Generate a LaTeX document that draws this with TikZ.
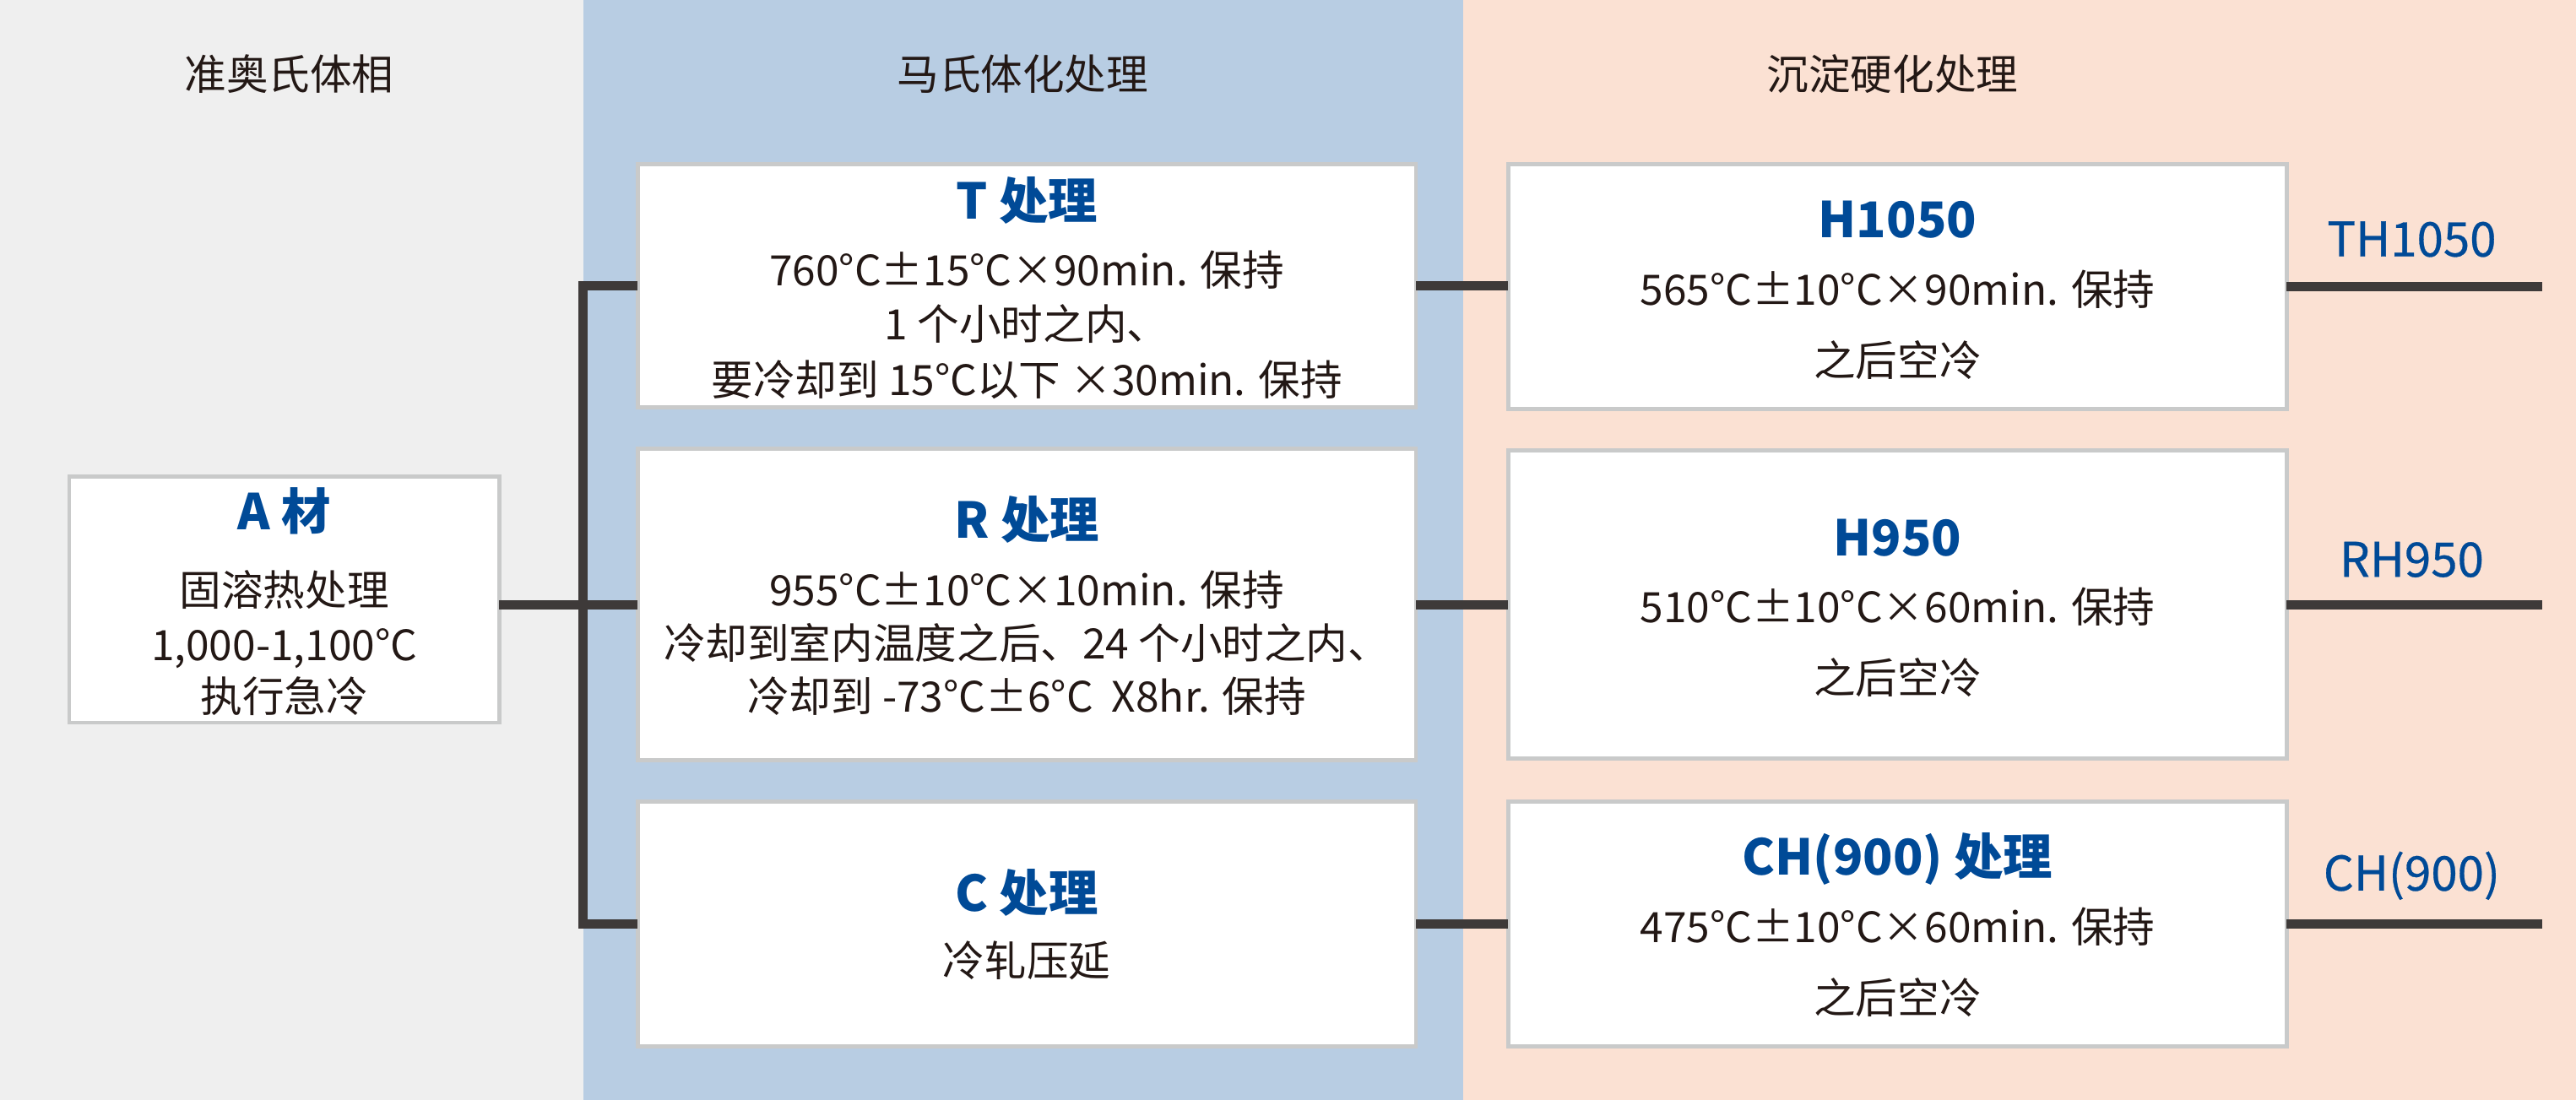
\documentclass[tikz,border=0pt]{standalone}
\usepackage{fontspec}
\setmainfont{Noto Sans CJK SC}
\newfontfamily\labfont{Noto Sans CJK SC}[FakeBold=0.5]
\definecolor{graybg}{HTML}{EFEFEF}
\definecolor{bluebg}{HTML}{B8CDE3}
\definecolor{peachbg}{HTML}{FBE1D3}
\definecolor{titleblue}{HTML}{004A97}
\definecolor{txt}{HTML}{231815}
\definecolor{conncol}{HTML}{3E3A39}
\definecolor{boxline}{HTML}{C9CACA}
\tikzset{
  panelbox/.style={draw=boxline, fill=white, line width=1.2pt, inner sep=0pt, outer sep=0pt},
  bodytxt/.style={inner sep=0pt, text=txt, font=\fontsize{12.75pt}{14pt}\selectfont, text height=0.88em, text depth=0.12em, yshift=-1.5pt},
  headtxt/.style={inner sep=0pt, text=txt, font=\fontsize{12.75pt}{14pt}\selectfont, text height=0.88em, text depth=0.12em, yshift=-1pt},
  titletxt/.style={inner sep=0pt, text=titleblue, font=\fontsize{15pt}{17pt}\selectfont\bfseries, text height=0.88em, text depth=0.12em, yshift=-2.5pt},
  labeltxt/.style={inner sep=0pt, text=titleblue, font=\fontsize{14.5pt}{17pt}\selectfont\labfont, text height=0.88em, text depth=0.12em, yshift=-1.75pt},
  conn/.style={draw=conncol, line width=2.85pt, line join=miter, line cap=butt},
}
\begin{document}
\begin{tikzpicture}[x=0.5pt,y=-0.5pt]
\useasboundingbox (0,0) rectangle (1568,669.6);
\fill[graybg] (0,0) rectangle (355,669.6);
\fill[bluebg] (355,0) rectangle (890.5,669.6);
\fill[peachbg] (890.5,0) rectangle (1568,669.6);

% headers
\node[headtxt] (h1) at (176,45) {准奥氏体相};
\node[headtxt] (h2) at (622.5,45) {马氏体化处理};
\node[headtxt] (h3) at (1152,45) {沉淀硬化处理};

% boxes
\node[panelbox, minimum width=130.9pt, minimum height=74.9pt] (A) at (173,365) {};
\node[panelbox, minimum width=236.9pt, minimum height=73.9pt] (T) at (625,174) {};
\node[panelbox, minimum width=236.9pt, minimum height=94.9pt] (R) at (625,368) {};
\node[panelbox, minimum width=236.9pt, minimum height=74.4pt] (C) at (625,562.5) {};
\node[panelbox, minimum width=236.9pt, minimum height=74.4pt] (H1) at (1155,174.5) {};
\node[panelbox, minimum width=236.9pt, minimum height=93.9pt] (H2) at (1155,368) {};
\node[panelbox, minimum width=236.9pt, minimum height=74.4pt] (H3) at (1155,562.5) {};

% spine coordinate and right ends
\coordinate (sp) at (355,368);
\coordinate (e1) at (1547.5,174.5);
\coordinate (e2) at (1547.5,368);
\coordinate (e3) at (1547.5,562.5);

% connectors
\draw[conn] (A.east |- R.west) -- (R.west);
\draw[conn] (T.west) -- (T.west -| sp) -- (C.west -| sp) -- (C.west);
\draw[conn] (T.east) -- (H1.west |- T.east);
\draw[conn] (R.east) -- (H2.west);
\draw[conn] (C.east) -- (H3.west);
\draw[conn] (H1.east) -- (e1);
\draw[conn] (H2.east) -- (e2);
\draw[conn] (H3.east) -- (e3);

% A box text
\node[titletxt] (At) at (173,310) {A 材};
\node[bodytxt] (A1) at (173,358) {固溶热处理};
\node[bodytxt] (A2) at (173,391.5) {1,000-1,100°C};
\node[bodytxt] (A3) at (173,423) {执行急冷};

% T box text
\node[titletxt] (Tt) at (625,121) {T 处理};
\node[bodytxt] (T1) at (625,163.5) {760°C±15°C×90min. 保持};
\node[bodytxt] (T2) at (625,196) {1 个小时之内、};
\node[bodytxt] (T3) at (625,230) {要冷却到\ 15°C以下 ×30min. 保持};

% R box text
\node[titletxt] (Rt) at (625,315) {R 处理};
\node[bodytxt] (R1) at (625,358) {955°C±10°C×10min. 保持};
\node[bodytxt] (R2) at (625,390.6) {冷却到室内温度之后、24 个小时之内、};
\node[bodytxt] (R3) at (625,423) {冷却到 -73°C±6°C\ \ X8hr. 保持};

% C box text
\node[titletxt] (Ct) at (625,542) {C 处理};
\node[bodytxt] (C1) at (625,584) {冷轧压延};

% H boxes text
\node[titletxt] (H1t) at (1155,132) {H1050};
\node[bodytxt] (H11) at (1155,175) {565°C±10°C×90min. 保持};
\node[bodytxt] (H12) at (1155,218.5) {之后空冷};

\node[titletxt] (H2t) at (1155,326) {H950};
\node[bodytxt] (H21) at (1155,368.5) {510°C±10°C×60min. 保持};
\node[bodytxt] (H22) at (1155,411.5) {之后空冷};

\node[titletxt] (H3t) at (1155,520) {CH(900) 处理};
\node[bodytxt] (H31) at (1155,563) {475°C±10°C×60min. 保持};
\node[bodytxt] (H32) at (1155,606.5) {之后空冷};

% right labels
\node[labeltxt] (L1) at (1468,145) {TH1050};
\node[labeltxt] (L2) at (1468,340) {RH950};
\node[labeltxt] (L3) at (1468,531) {CH(900)};
\end{tikzpicture}
\end{document}
